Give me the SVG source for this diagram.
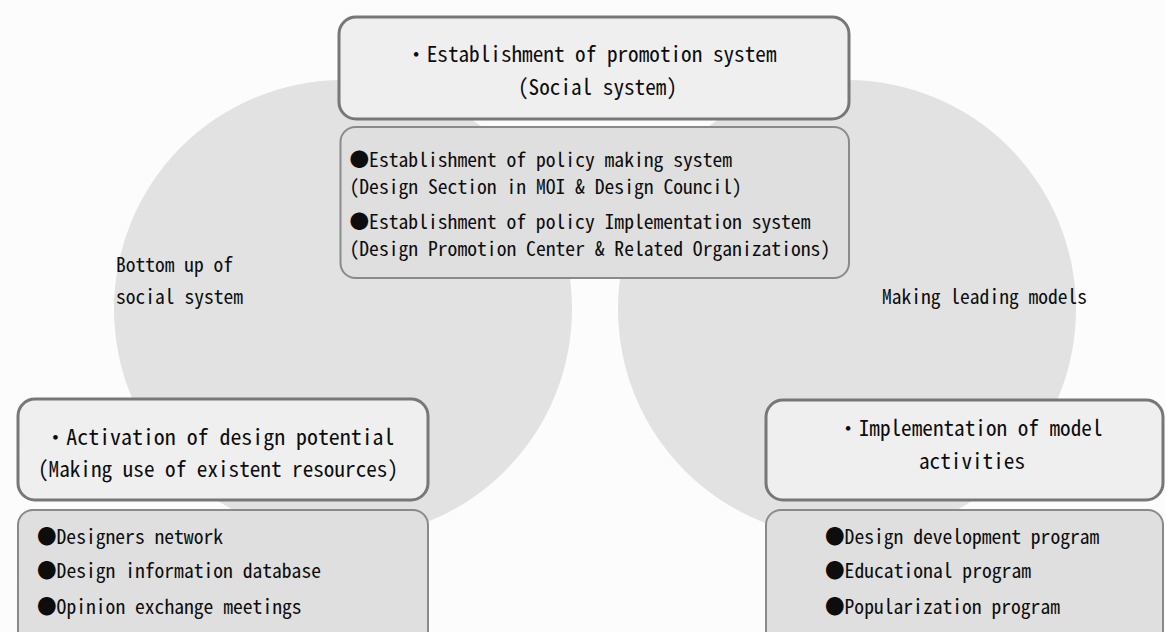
<svg xmlns="http://www.w3.org/2000/svg" width="1166" height="632" viewBox="0 0 1166 632">
  <style>
    .bg { fill: #fcfcfc; }
    .disc { fill: #e2e2e2; }
    .head { fill: #efefef; stroke: #777777; stroke-width: 3; }
    .list { fill: #dfdfdf; stroke: #8a8a8a; stroke-width: 2; }
    text { font-family: "Noto Sans Mono CJK JP", "Liberation Mono", "Noto Sans CJK JP", monospace; fill: #0d0d0d; }
    .t21 { font-size: 22px; }
    .t19 { font-size: 20.5px; }
    .t18 { font-size: 19.5px; }
  </style>

  <rect class="bg" x="0" y="0" width="1166" height="632"/>

  <!-- two overlapping background discs -->
  <g id="discs">
    <circle class="disc" cx="343" cy="309" r="229"/>
    <circle class="disc" cx="847" cy="309" r="229"/>
  </g>

  <!-- top: promotion system -->
  <g id="promotion-system">
    <rect class="head" x="339" y="17" width="510" height="102" rx="17"/>
    <text class="t21" x="405.5" y="62" textLength="371" lengthAdjust="spacingAndGlyphs">・Establishment of promotion system</text>
    <text class="t21" x="518" y="94.5" textLength="159" lengthAdjust="spacingAndGlyphs">(Social system)</text>
  </g>

  <!-- tightly spaced lines, so a slightly smaller size -->
  <g id="policy-systems">
    <rect class="list" x="340.5" y="127" width="508.5" height="151" rx="15"/>
    <text class="t18" x="349.5" y="166.5" textLength="382.6" lengthAdjust="spacingAndGlyphs">●Establishment of policy making system</text>
    <text class="t18" x="349.5" y="193.5" textLength="392.4" lengthAdjust="spacingAndGlyphs">(Design Section in MOI &amp; Design Council)</text>
    <text class="t18" x="349.5" y="229" textLength="461" lengthAdjust="spacingAndGlyphs">●Establishment of policy Implementation system</text>
    <text class="t18" x="349.5" y="255.5" textLength="480.7" lengthAdjust="spacingAndGlyphs">(Design Promotion Center &amp; Related Organizations)</text>
  </g>

  <!-- side labels on the discs -->
  <g id="label-bottom-up">
    <text class="t19" x="116" y="272" textLength="117" lengthAdjust="spacingAndGlyphs">Bottom up of</text>
    <text class="t19" x="116" y="303.5" textLength="127" lengthAdjust="spacingAndGlyphs">social system</text>
  </g>
  <g id="label-leading-models">
    <text class="t19" x="882" y="303.5" textLength="205" lengthAdjust="spacingAndGlyphs">Making leading models</text>
  </g>

  <!-- lower left: design potential -->
  <g id="design-potential">
    <rect class="head" x="18" y="399" width="410" height="101" rx="17"/>
    <text class="t21" x="44.5" y="445" textLength="350" lengthAdjust="spacingAndGlyphs">・Activation of design potential</text>
    <text class="t21" x="38" y="477" textLength="360" lengthAdjust="spacingAndGlyphs">(Making use of existent resources)</text>
  </g>
  <g id="potential-items">
    <rect class="list" x="18" y="510" width="410" height="140" rx="15"/>
    <text class="t19" x="37" y="544" textLength="186" lengthAdjust="spacingAndGlyphs">●Designers network</text>
    <text class="t19" x="37" y="578" textLength="284" lengthAdjust="spacingAndGlyphs">●Design information database</text>
    <text class="t19" x="37" y="613.5" textLength="264.6" lengthAdjust="spacingAndGlyphs">●Opinion exchange meetings</text>
  </g>

  <!-- lower right: model activities -->
  <g id="model-activities">
    <rect class="head" x="766" y="400" width="397" height="100" rx="17"/>
    <text class="t21" x="837.5" y="435.5" textLength="265" lengthAdjust="spacingAndGlyphs">・Implementation of model</text>
    <text class="t21" x="919" y="468.5" textLength="106" lengthAdjust="spacingAndGlyphs">activities</text>
  </g>
  <g id="model-items">
    <rect class="list" x="766" y="510" width="397" height="140" rx="15"/>
    <text class="t19" x="825" y="544" textLength="274.4" lengthAdjust="spacingAndGlyphs">●Design development program</text>
    <text class="t19" x="825" y="577.5" textLength="206" lengthAdjust="spacingAndGlyphs">●Educational program</text>
    <text class="t19" x="825" y="613.5" textLength="235" lengthAdjust="spacingAndGlyphs">●Popularization program</text>
  </g>
</svg>
